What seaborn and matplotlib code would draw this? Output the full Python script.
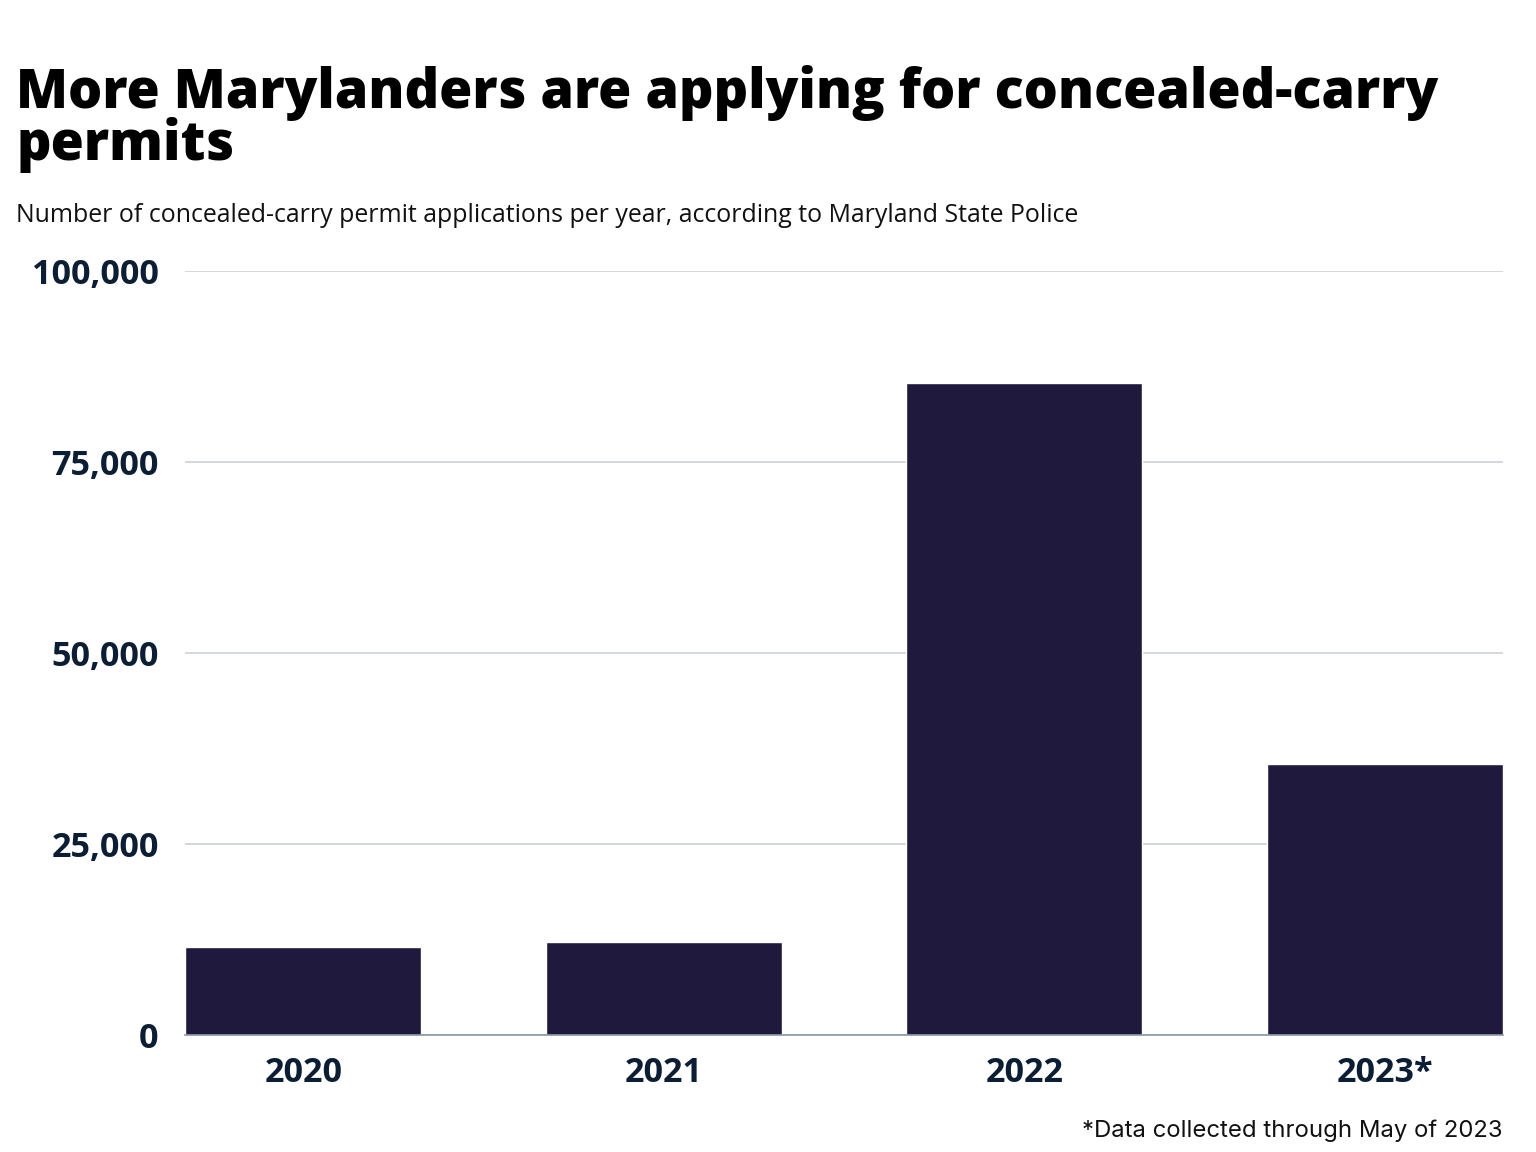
import pandas as pd
import matplotlib.pyplot as plt
import seaborn as sns

# datos
years = ["2020", "2021", "2022", "2023*"]
applications = [11500, 12200, 85300, 35500]
ticks = [0, 25000, 50000, 75000, 100000]
tick_labels = ["0", "25,000", "50,000", "75,000", "100,000"]

df = pd.DataFrame({"year": years, "applications": applications})

sns.set_style("white")
plt.rcParams["font.family"] = ["Open Sans", "DejaVu Sans"]

fig = plt.figure(figsize=(15.36, 11.52), dpi=100)
ax = fig.add_axes([185/1536, 1 - 1035/1152, (1503-185)/1536, (1035-271)/1152])

sns.barplot(data=df, x="year", y="applications", order=years, color="#1f1a3d",
            width=0.656, saturation=1, ax=ax)

ax.set_xlim(-0.328, 3.328)
ax.set_ylim(0, 100000)
ax.set_yticks(ticks)
ax.set_yticklabels(tick_labels)
ax.yaxis.grid(True, color="#c9ced4", linewidth=1.1)
ax.set_axisbelow(True)
for s in ["top", "right", "left"]:
    ax.spines[s].set_visible(False)
ax.spines["bottom"].set_color("#8a96a3")
ax.spines["bottom"].set_linewidth(1.2)
ax.tick_params(axis="both", length=0, labelsize=24.6, labelcolor="#0c1e33")
ax.tick_params(axis="y", pad=19)
ax.tick_params(axis="x", pad=15)
for lab in ax.get_xticklabels() + ax.get_yticklabels():
    lab.set_fontweight("bold")
ax.set_xlabel("")
ax.set_ylabel("")

fig.text(16/1536, 1 - 108/1152, "More Marylanders are applying for concealed-carry",
         fontsize=38.8, fontweight="heavy", color="black", va="baseline")
fig.text(16/1536, 1 - 160/1152, "permits",
         fontsize=38.8, fontweight="heavy", color="black", va="baseline")
fig.text(16/1536, 1 - 222/1152,
         "Number of concealed-carry permit applications per year, according to Maryland State Police",
         fontsize=17.9, color="#111111", va="baseline")
fig.text(1503/1536, 1 - 1137/1152, "*Data collected through May of 2023",
         fontsize=17.2, color="#111111", ha="right", va="baseline",
         family=["Inter", "DejaVu Sans"])

plt.savefig("out.png", dpi=100)
